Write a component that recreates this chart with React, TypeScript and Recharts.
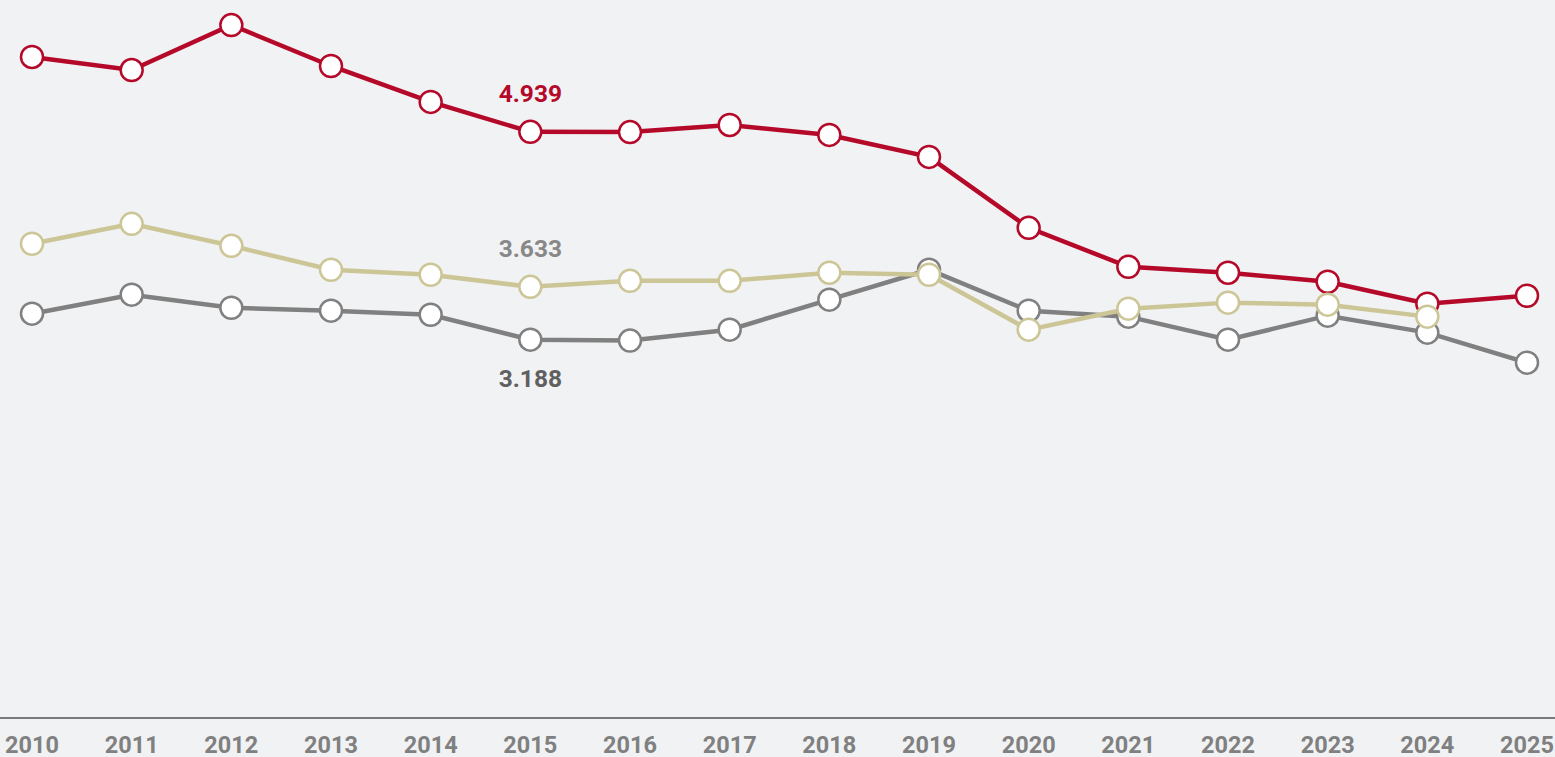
import React from 'react';
import { LineChart, Line, XAxis, YAxis, LabelList } from 'recharts';

const YEARS = ['2010', '2011', '2012', '2013', '2014', '2015', '2016', '2017', '2018', '2019', '2020', '2021', '2022', '2023', '2024', '2025'];
const RED = [5.570, 5.460, 5.839, 5.494, 5.191, 4.939, 4.937, 4.997, 4.913, 4.728, 4.130, 3.802, 3.752, 3.676, 3.491, 3.558];
const BEIGE = [3.996, 4.164, 3.979, 3.777, 3.735, 3.633, 3.684, 3.684, 3.752, 3.735, 3.272, 3.449, 3.500, 3.483, 3.382, null];
const GRAY = [3.407, 3.567, 3.457, 3.432, 3.398, 3.188, 3.180, 3.272, 3.525, 3.777, 3.432, 3.382, 3.188, 3.390, 3.247, 2.994];
const LABEL_INDEX = 5;

const data = YEARS.map((year, i) => ({
    year,
    red: RED[i],
    beige: BEIGE[i],
    gray: GRAY[i],
}));

const makeLabel = (color: string, dy: number) => (props: any) => {
    const { x, y, value, index } = props;
    if (index !== LABEL_INDEX || value == null) return null;
    return (
        <text x={x} y={y + dy} textAnchor="middle" fill={color}
              style={{ fontFamily: 'Roboto, sans-serif', fontSize: 24.5, fontWeight: 700 }}>
            {Number(value).toFixed(3)}
        </text>
    );
};

const dotStyle = (color: string) => ({ r: 11, fill: '#ffffff', stroke: color, strokeWidth: 2.5 });

const App: React.FC = () => {
    return (
        <div style={{ position: 'absolute', left: 0, top: 0, width: 1555, height: 757, background: '#f1f2f4', overflow: 'hidden' }}>
            <LineChart width={1555} height={757} data={data} margin={{ top: 0, right: 0, bottom: 0, left: 0 }}>
                <XAxis
                    dataKey="year"
                    height={39}
                    padding={{ left: 32, right: 28 }}
                    axisLine={{ stroke: '#7a7a7a', strokeWidth: 2 }}
                    tickLine={false}
                    tickMargin={12}
                    interval={0}
                    tick={{ fontSize: 23.5, fontWeight: 700, fill: '#808080', fontFamily: 'Roboto, sans-serif' }}
                />
                <YAxis hide domain={[0, 6.05]} />
                <Line dataKey="gray" stroke="#808080" strokeWidth={4.5} dot={dotStyle('#808080')}
                      activeDot={false} isAnimationActive={false}>
                    <LabelList dataKey="gray" content={makeLabel('#606060', 47)} />
                </Line>
                <Line dataKey="red" stroke="#b5092a" strokeWidth={4.5} dot={dotStyle('#b5092a')}
                      activeDot={false} isAnimationActive={false}>
                    <LabelList dataKey="red" content={makeLabel('#b5092a', -30)} />
                </Line>
                <Line dataKey="beige" stroke="#ccc697" strokeWidth={4.5} dot={dotStyle('#ccc697')}
                      activeDot={false} isAnimationActive={false}>
                    <LabelList dataKey="beige" content={makeLabel('#888888', -30)} />
                </Line>
            </LineChart>
        </div>
    );
};

export default App;
